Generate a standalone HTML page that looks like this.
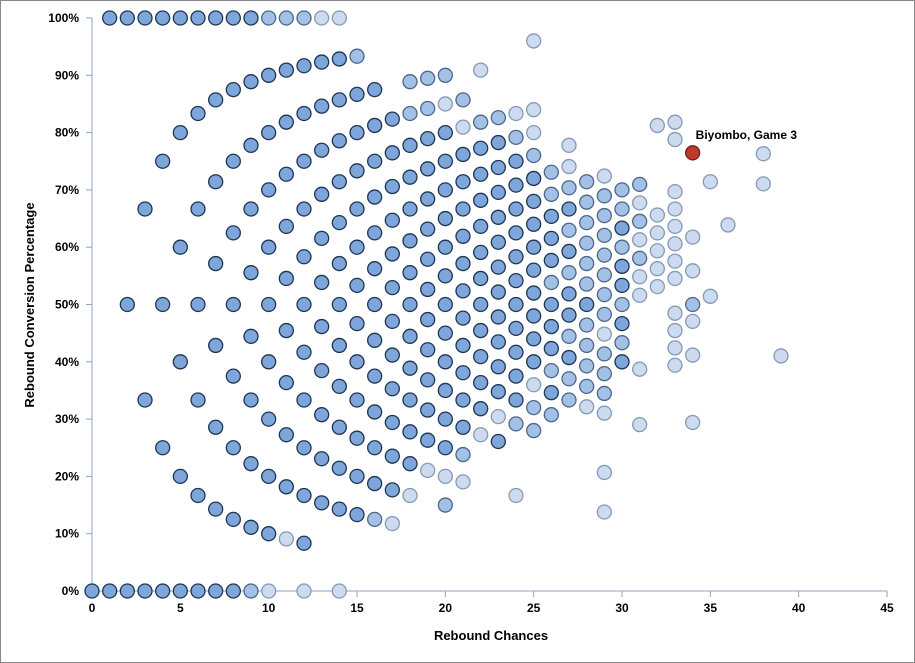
<!DOCTYPE html>
<html><head><meta charset="utf-8"><style>
html,body{margin:0;padding:0;background:#fff}
svg{display:block;font-family:"Liberation Sans",Arial,sans-serif}
</style></head><body>
<svg id="chart" width="915" height="663" viewBox="0 0 915 663">
<rect x="0.5" y="0.5" width="914" height="662" fill="#fff" stroke="#888"/>
<g id="axes"></g><g id="marks"></g>
<text x="491" y="640" text-anchor="middle" font-size="13" font-weight="bold">Rebound Chances</text>
<text transform="translate(34,305) rotate(-90)" text-anchor="middle" font-size="13" font-weight="bold">Rebound Conversion Percentage</text>
</svg>
<script>
const xTicks=[0,5,10,15,20,25,30,35,40,45];
const yTicks=[0,10,20,30,40,50,60,70,80,90,100];
// per chances column: made values and shade (3 dark, 2 mid, 1 light)
const colChances=[0,1,2,3,4,5,6,7,8,9,10,11,12,13,14,15,16,17,18,19,20,21,22,23,24,25,26,27,28,29,30,31,32,33,34,35,36,38,39];
const colMade=[
[0],[0,1],[0,1,2],[0,1,2,3],[0,1,2,3,4],[0,1,2,3,4,5],[0,1,2,3,4,5,6],[0,1,2,3,4,5,6,7],[0,1,2,3,4,5,6,7,8],
[0,1,2,3,4,5,6,7,8,9],[0,1,2,3,4,5,6,7,8,9,10],[1,2,3,4,5,6,7,8,9,10,11],[0,1,2,3,4,5,6,7,8,9,10,11,12],
[2,3,4,5,6,7,8,9,10,11,12,13],[0,2,3,4,5,6,7,8,9,10,11,12,13,14],[2,3,4,5,6,7,8,9,10,11,12,13,14],
[2,3,4,5,6,7,8,9,10,11,12,13,14],[2,3,4,5,6,7,8,9,10,11,12,13,14],[3,4,5,6,7,8,9,10,11,12,13,14,15,16],
[4,5,6,7,8,9,10,11,12,13,14,15,16,17],[3,4,5,6,7,8,9,10,11,12,13,14,15,16,17,18],[4,5,6,7,8,9,10,11,12,13,14,15,16,17,18],
[6,7,8,9,10,11,12,13,14,15,16,17,18,20],[6,7,8,9,10,11,12,13,14,15,16,17,18,19],[4,7,8,9,10,11,12,13,14,15,16,17,18,19,20],
[7,8,9,10,11,12,13,14,15,16,17,18,19,20,21,24],[8,9,10,11,12,13,14,15,16,17,18,19],[9,10,11,12,13,14,15,16,17,18,19,20,21],
[9,10,11,12,13,14,15,16,17,18,19,20],[4,6,9,10,11,12,13,14,15,16,17,18,19,20,21],[12,13,14,15,16,17,18,19,20,21],
[9,12,16,17,18,19,20,21,22],[17,18,19,20,21,26],[13,14,15,16,18,19,20,21,22,23,26,27],[10,14,16,17,19,21],[18,25],[23],[27,29],[16]];
const colShade=[
[3],[3,3],[3,3,3],[3,3,3,3],[3,3,3,3,3],[3,3,3,3,3,3],[3,3,3,3,3,3,3],[3,3,3,3,3,3,3,3],[3,3,3,3,3,3,3,3,3],
[2,3,3,3,3,3,3,3,3,3],[1,3,3,3,3,3,3,3,3,3,2],[1,3,3,3,3,3,3,3,3,3,2],[1,3,3,3,3,3,3,3,3,3,3,3,2],
[3,3,3,3,3,3,3,3,3,3,3,1],[1,3,3,3,3,3,3,3,3,3,3,3,3,1],[3,3,3,3,3,3,3,3,3,3,3,3,2],
[2,3,3,3,3,3,3,3,3,3,3,3,3],[1,3,3,3,3,3,3,3,3,3,3,3,3],[1,3,3,3,3,3,3,3,3,3,3,3,2,2],
[1,3,3,3,3,3,3,3,3,3,3,3,2,2],[2,1,3,3,3,3,3,3,3,3,3,3,3,3,1,2],[1,2,3,3,3,3,3,3,3,3,3,3,3,1,2],
[1,3,3,3,3,3,3,3,3,3,3,3,2,1],[3,1,3,3,3,3,3,3,3,3,3,3,3,2],[1,2,3,3,3,3,3,3,3,3,3,3,3,2,1],
[2,2,1,3,3,3,3,3,3,3,3,3,2,1,1,1],[2,3,2,3,3,3,2,3,3,3,2,2],[2,2,3,2,3,3,2,3,2,3,2,1,1],
[1,2,2,2,2,3,2,2,2,2,2,2],[1,1,1,2,2,2,1,2,2,2,2,2,2,2,1],[3,2,3,2,3,3,2,3,2,2],
[1,1,1,1,2,1,2,1,2],[1,1,1,1,1,1],[1,1,1,1,1,1,1,1,1,1,1,1],[1,1,1,2,1,1],[1,1],[1],[1,1],[1]];
const highlightChances=[34], highlightMade=[26], highlightLabel=["Biyombo, Game 3"];
const NS="http://www.w3.org/2000/svg";
const X0=92,X1=887,Y0=591,Y1=18;
const xs=v=>X0+(v-0)/(45-0)*(X1-X0);
const ys=p=>Y0-(p/100)*(Y0-Y1);
function el(t,a,p){const e=document.createElementNS(NS,t);for(const k in a)e.setAttribute(k,a[k]);p.appendChild(e);return e;}
const ax=document.getElementById('axes'),mk=document.getElementById('marks');
let yl=el('line',{x1:X0,y1:Y1,x2:X0,y2:Y0,stroke:'#8EA4C0','stroke-width':1},ax);


let xl=el('line',{x1:X0,y1:Y0,x2:X1,y2:Y0,stroke:'#8EA4C0','stroke-width':1},ax);


yTicks.forEach(t=>{const y=ys(t);
 el('line',{x1:X0-6,y1:y,x2:X0,y2:y,stroke:'#8EA4C0'},ax);
 const tx=el('text',{x:X0-13,y:y+4,'text-anchor':'end','font-size':12,'font-weight':'bold'},ax);tx.textContent=t+'%';
 
 });
xTicks.forEach(t=>{const x=xs(t);
 el('line',{x1:x,y1:Y0,x2:x,y2:Y0+6,stroke:'#8EA4C0'},ax);
 const tx=el('text',{x:x,y:Y0+21,'text-anchor':'middle','font-size':12,'font-weight':'bold'},ax);tx.textContent=t;
 
 });
const fills={3:'#7EA6DA',2:'#A3C0E6',1:'#CCDBF0'},strokes={3:'#1E3552',2:'#4E6788',1:'#8799B3'};
colChances.forEach((n,i)=>{colMade[i].forEach((k,j)=>{const s=colShade[i][j]||1;const p=n?k/n*100:0;
 const c=el('circle',{cx:xs(n),cy:ys(p),r:7,fill:fills[s],stroke:strokes[s],'stroke-width':1.3},mk);
 
 });});
highlightChances.forEach((n,i)=>{const p=highlightMade[i]/n*100;
 const c=el('circle',{cx:xs(n),cy:ys(p),r:7,fill:'#C0392F',stroke:'#7A1E18','stroke-width':1.3},mk);
 
 
 const t=el('text',{x:xs(n)+3,y:ys(p)-14,'font-size':12,'font-weight':'bold'},mk);t.textContent=highlightLabel[i];
 
 });
</script>
</body></html>
